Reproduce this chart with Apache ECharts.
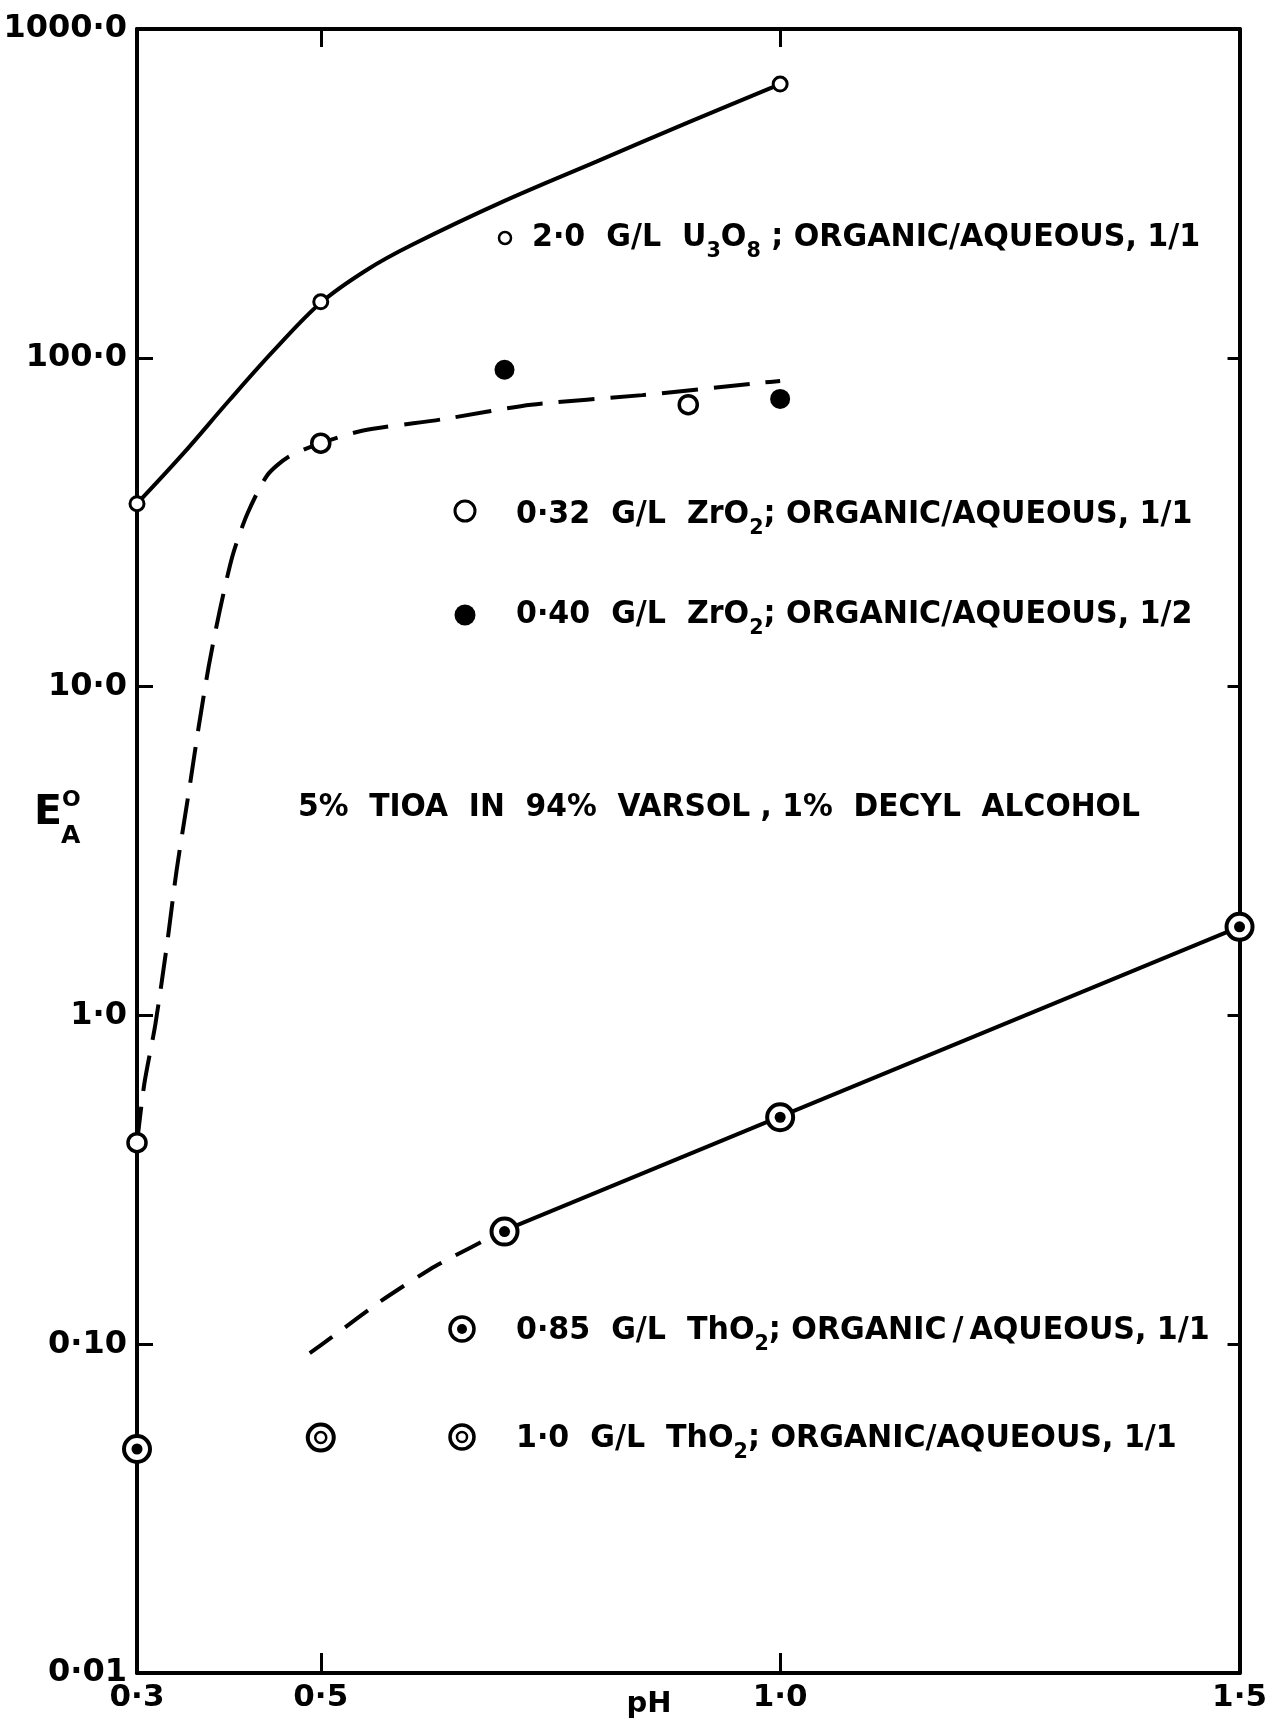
<!DOCTYPE html>
<html>
<head>
<meta charset="utf-8">
<script src="https://cdn.jsdelivr.net/npm/echarts@6/dist/echarts.min.js"></script>
<style>
  html, body { margin: 0; padding: 0; background: #fff; }
  #chart { width: 1270px; height: 1722px; }
</style>
</head>
<body>
<div id="chart"></div>
<script>
// ---------- axis ticks ----------
const xTickValues = [0.3, 0.5, 1.0, 1.5];
const xTickLabels = ['0·3', '0·5', '1·0', '1·5'];
const xInnerTicks = [0.5, 1.0];
const yTickValues = [0.01, 0.1, 1, 10, 100, 1000];
const yTickLabels = ['0·01', '0·10', '1·0', '10·0', '100·0', '1000·0'];

// ---------- 2.0 G/L U3O8 ----------
const u3o8PH = [0.30, 0.50, 1.00];
const u3o8E  = [36, 148, 680];
const u3o8CurvePH = [0.30, 0.35, 0.40, 0.45, 0.50, 0.55, 0.60, 0.70, 0.80, 0.90, 1.00];
const u3o8CurveE  = [36, 51, 74, 106, 147, 185, 221, 300, 395, 520, 680];

// ---------- ZrO2 ----------
const zr032PH = [0.30, 0.50, 0.90];
const zr032E  = [0.41, 55, 72];
const zr040PH = [0.70, 1.00];
const zr040E  = [92, 75];
const zrCurvePH = [0.300, 0.308, 0.320, 0.333, 0.343, 0.357, 0.367, 0.378, 0.390, 0.404, 0.420, 0.442, 0.465, 0.50, 0.545, 0.632, 0.729, 0.85, 0.98, 1.00];
const zrCurveE  = [0.41, 0.62, 0.94, 1.67, 2.75, 4.9, 7.5, 11.5, 17, 25, 33.5, 44, 50, 55, 60, 65, 72, 77, 84, 85];

// ---------- ThO2 ----------
const th085PH = [0.30, 0.70, 1.00, 1.50];
const th085E  = [0.048, 0.22, 0.49, 1.86];
const th10PH  = [0.50];
const th10E   = [0.052];
const thSolidPH = [0.70, 1.50];
const thSolidE  = [0.222, 1.86];
const thDashPH = [0.488, 0.512, 0.565, 0.625, 0.70];
const thDashE  = [0.094, 0.105, 0.135, 0.173, 0.222];

const pairs = (xs, ys) => xs.map((x, i) => [x, ys[i]]);

const FONT = 'DejaVu Sans';
const chart = echarts.init(document.getElementById('chart'), null, { renderer: 'canvas' });

function yLabel(v) {
  for (let i = 0; i < yTickValues.length; i++) {
    if (Math.abs(Math.log10(v) - Math.log10(yTickValues[i])) < 1e-6) return yTickLabels[i];
  }
  return '';
}
function xLabel(v) {
  for (let i = 0; i < xTickValues.length; i++) {
    if (Math.abs(v - xTickValues[i]) < 1e-6) return xTickLabels[i];
  }
  return '';
}

const axisLine = { show: true, onZero: false, lineStyle: { color: '#000', width: 4 } };
const labelStyle = { color: '#000', fontFamily: FONT, fontWeight: 'bold', fontSize: 31 };

const richBase = {
  a: { fontFamily: FONT, fontWeight: 'bold', fontSize: 32, color: '#000', lineHeight: 48, verticalAlign: 'middle' },
  s: { fontFamily: FONT, fontWeight: 'bold', fontSize: 22, color: '#000', lineHeight: 24, verticalAlign: 'bottom' }
};
function note(x, y, text) {
  return { type: 'text', x: x, y: y, scaleX: 0.94, z: 10,
    style: { text: text, rich: richBase, verticalAlign: 'middle', textAlign: 'left' } };
}
const solid = { opacity: 1 };

const option = {
  backgroundColor: '#fff',
  animation: false,
  grid: { left: 137, right: 30, top: 29, bottom: 49, containLabel: false },
  xAxis: [
    {
      type: 'value', min: 0.3, max: 1.5, position: 'bottom',
      axisLine: axisLine,
      axisTick: { show: true, inside: true, length: 20, lineStyle: { color: '#000', width: 3 }, customValues: xInnerTicks },
      axisLabel: { show: true, margin: 9, customValues: xTickValues, formatter: xLabel, ...labelStyle },
      splitLine: { show: false }
    },
    {
      type: 'value', min: 0.3, max: 1.5, position: 'top',
      axisLine: axisLine,
      axisTick: { show: true, inside: true, length: 18, lineStyle: { color: '#000', width: 3 }, customValues: xInnerTicks },
      axisLabel: { show: false },
      splitLine: { show: false }
    }
  ],
  yAxis: [
    {
      type: 'log', logBase: 10, min: 0.01, max: 1000, position: 'left',
      axisLine: axisLine,
      axisTick: { show: true, inside: true, length: 16, lineStyle: { color: '#000', width: 3 }, customValues: yTickValues },
      axisLabel: { show: true, margin: 10, customValues: yTickValues, formatter: yLabel, ...labelStyle, fontSize: 32 },
      splitLine: { show: false }
    },
    {
      type: 'log', logBase: 10, min: 0.01, max: 1000, position: 'right',
      axisLine: axisLine,
      axisTick: { show: true, inside: true, length: 12, lineStyle: { color: '#000', width: 3 }, customValues: yTickValues },
      axisLabel: { show: false },
      splitLine: { show: false }
    }
  ],
  series: [
    { name: 'U3O8 curve', type: 'line', data: pairs(u3o8CurvePH, u3o8CurveE), smooth: 0.35, symbol: 'none',
      lineStyle: { color: '#000', width: 4 }, z: 2 },
    { name: '2.0 G/L U3O8', type: 'scatter', data: pairs(u3o8PH, u3o8E), symbol: 'circle', symbolSize: 14,
      itemStyle: { color: '#fff', borderColor: '#000', borderWidth: 3, ...solid }, z: 5, clip: false },

    { name: 'ZrO2 curve', type: 'line', data: pairs(zrCurvePH, zrCurveE), smooth: 0.25, symbol: 'none',
      lineStyle: { color: '#000', width: 4, type: [36, 16] }, z: 2 },
    { name: '0.32 G/L ZrO2', type: 'scatter', data: pairs(zr032PH, zr032E), symbol: 'circle', symbolSize: 18,
      itemStyle: { color: '#fff', borderColor: '#000', borderWidth: 3.5, ...solid }, z: 5, clip: false },
    { name: '0.40 G/L ZrO2', type: 'scatter', data: pairs(zr040PH, zr040E), symbol: 'circle', symbolSize: 20,
      itemStyle: { color: '#000', ...solid }, z: 5, clip: false },

    { name: 'ThO2 solid', type: 'line', data: pairs(thSolidPH, thSolidE), symbol: 'none',
      lineStyle: { color: '#000', width: 4 }, z: 2 },
    { name: 'ThO2 dashed', type: 'line', data: pairs(thDashPH, thDashE), smooth: 0.2, symbol: 'none',
      lineStyle: { color: '#000', width: 4, type: [28, 16] }, z: 2 },
    { name: '0.85 G/L ThO2', type: 'scatter', data: pairs(th085PH, th085E), symbol: 'circle', symbolSize: 26,
      itemStyle: { color: '#fff', borderColor: '#000', borderWidth: 4, ...solid }, z: 5, clip: false },
    { name: '0.85 G/L ThO2 centre', type: 'scatter', data: pairs(th085PH, th085E), symbol: 'circle', symbolSize: 11,
      itemStyle: { color: '#000', ...solid }, z: 6, clip: false },
    { name: '1.0 G/L ThO2', type: 'scatter', data: pairs(th10PH, th10E), symbol: 'circle', symbolSize: 26,
      itemStyle: { color: '#fff', borderColor: '#000', borderWidth: 4, ...solid }, z: 5, clip: false },
    { name: '1.0 G/L ThO2 centre', type: 'scatter', data: pairs(th10PH, th10E), symbol: 'circle', symbolSize: 11,
      itemStyle: { color: '#fff', borderColor: '#000', borderWidth: 2.5, ...solid }, z: 6, clip: false }
  ],
  graphic: [
    // axis titles
    { type: 'text', x: 34, y: 813, style: { text: 'E', fontFamily: FONT, fontWeight: 'bold', fontSize: 41, fill: '#000', verticalAlign: 'middle' } },
    { type: 'text', x: 62, y: 800, style: { text: 'O', fontFamily: FONT, fontWeight: 'bold', fontSize: 22, fill: '#000', verticalAlign: 'middle' } },
    { type: 'text', x: 61, y: 836, style: { text: 'A', fontFamily: FONT, fontWeight: 'bold', fontSize: 25, fill: '#000', verticalAlign: 'middle' } },
    { type: 'text', x: 649, y: 1704, style: { text: 'pH', fontFamily: FONT, fontWeight: 'bold', fontSize: 29, fill: '#000', align: 'center', verticalAlign: 'middle' } },

    // legend-like notes
    { type: 'circle', shape: { cx: 505, cy: 238, r: 6 }, style: { fill: '#fff', stroke: '#000', lineWidth: 2.5 }, z: 10 },
    note(532, 238, '{a|2·0  G/L  U}{s|3}{a|O}{s|8}{a| ; ORGANIC/AQUEOUS, 1/1}'),

    { type: 'circle', shape: { cx: 465, cy: 511, r: 10 }, style: { fill: '#fff', stroke: '#000', lineWidth: 3 }, z: 10 },
    note(516, 515, '{a|0·32  G/L  ZrO}{s|2}{a|; ORGANIC/AQUEOUS, 1/1}'),

    { type: 'circle', shape: { cx: 465, cy: 615, r: 10.5 }, style: { fill: '#000' }, z: 10 },
    note(516, 615, '{a|0·40  G/L  ZrO}{s|2}{a|; ORGANIC/AQUEOUS, 1/2}'),

    { type: 'text', x: 298, y: 808, scaleX: 0.93, z: 10, style: { text: '5%  TIOA  IN  94%  VARSOL , 1%  DECYL  ALCOHOL', fontFamily: FONT, fontWeight: 'bold', fontSize: 32, fill: '#000', verticalAlign: 'middle' } },

    { type: 'circle', shape: { cx: 462, cy: 1329, r: 12 }, style: { fill: '#fff', stroke: '#000', lineWidth: 3.5 }, z: 10 },
    { type: 'circle', shape: { cx: 462, cy: 1329, r: 5 }, style: { fill: '#000' }, z: 11 },
    note(516, 1331, '{a|0·85  G/L  ThO}{s|2}{a|; ORGANIC\u2009/\u2009AQUEOUS, 1/1}'),

    { type: 'circle', shape: { cx: 462, cy: 1437, r: 12 }, style: { fill: '#fff', stroke: '#000', lineWidth: 3.5 }, z: 10 },
    { type: 'circle', shape: { cx: 462, cy: 1437, r: 5 }, style: { fill: '#fff', stroke: '#000', lineWidth: 2.5 }, z: 11 },
    note(516, 1439, '{a|1·0  G/L  ThO}{s|2}{a|; ORGANIC/AQUEOUS, 1/1}')
  ]
};

chart.setOption(option);
</script>
</body>
</html>
